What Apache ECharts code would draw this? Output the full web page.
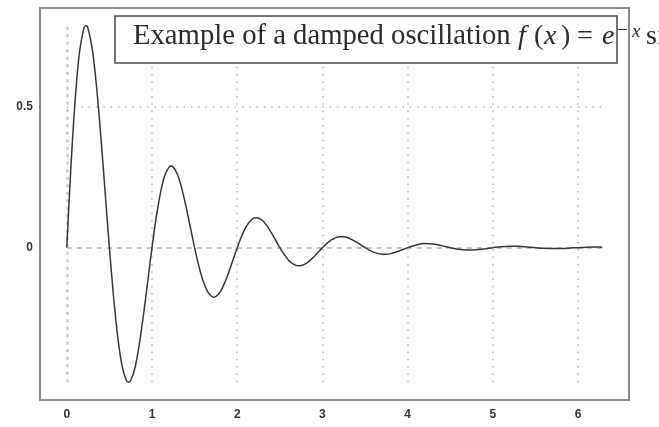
<!DOCTYPE html>
<html>
<head>
<meta charset="utf-8">
<script src="https://cdn.jsdelivr.net/npm/echarts@6/dist/echarts.min.js"></script>
<style>
html,body{margin:0;padding:0;background:#fff;}
#chart{width:659px;height:427px;}
</style>
</head>
<body>
<div id="chart"></div>
<script>
// Sample positions (x) and values f(x)
const xValues = [
  0, 0.05, 0.1, 0.15, 0.2, 0.225, 0.25, 0.3, 0.35, 0.4, 0.45, 0.5,
  0.55, 0.6, 0.65, 0.7, 0.725, 0.75, 0.8, 0.85, 0.9, 0.95, 1.0,
  1.05, 1.1, 1.15, 1.2, 1.225, 1.25, 1.3, 1.35, 1.4, 1.45, 1.5,
  1.55, 1.6, 1.65, 1.7, 1.725, 1.75, 1.8, 1.85, 1.9, 1.95, 2.0,
  2.05, 2.1, 2.15, 2.2, 2.225, 2.25, 2.3, 2.35, 2.4, 2.45, 2.5,
  2.55, 2.6, 2.65, 2.7, 2.725, 2.75, 2.8, 2.85, 2.9, 2.95, 3.0,
  3.1, 3.2, 3.25, 3.3, 3.4, 3.5, 3.6, 3.7, 3.75, 3.8, 3.9, 4.0,
  4.1, 4.2, 4.3, 4.4, 4.5, 4.6, 4.7, 4.8, 4.9, 5.0,
  5.1, 5.2, 5.3, 5.4, 5.5, 5.6, 5.7, 5.8, 5.9, 6.0,
  6.1, 6.2, 6.283
];
const yValues = [
  0, 0.2939, 0.5318, 0.6963, 0.7787, 0.7886, 0.7788, 0.7046, 0.5701, 0.3940, 0.1970, 0,
  -0.1783, -0.3226, -0.4223, -0.4723, -0.4783, -0.4724, -0.4273, -0.3458, -0.2390, -0.1195, 0,
  0.1081, 0.1956, 0.2562, 0.2865, 0.2901, 0.2865, 0.2592, 0.2097, 0.1450, 0.0725, 0,
  -0.0656, -0.1187, -0.1554, -0.1738, -0.1760, -0.1738, -0.1572, -0.1272, -0.0879, -0.0440, 0,
  0.0398, 0.0720, 0.0942, 0.1054, 0.1067, 0.1054, 0.0954, 0.0772, 0.0533, 0.0267, 0,
  -0.0241, -0.0437, -0.0572, -0.0639, -0.0647, -0.0639, -0.0578, -0.0468, -0.0323, -0.0162, 0,
  0.0265, 0.0388, 0.0388, 0.0351, 0.0196, 0, -0.0161, -0.0235, -0.0235, -0.0213, -0.0119, 0,
  0.0097, 0.0143, 0.0129, 0.0072, 0, -0.0059, -0.0087, -0.0078, -0.0044, 0,
  0.0036, 0.0052, 0.0047, 0.0027, 0, -0.0022, -0.0032, -0.0029, -0.0016, 0,
  0.0013, 0.0019, 0.0018
];
const xTickLabels = [0, 1, 2, 3, 4, 5, 6];
const yTickLabels = [0, 0.5];
const xGridLines = [1, 2, 3, 4, 5, 6];
const yGridLines = [0.5];
const titleMain = 'Example of a damped oscillation';
// title formula pieces: f ( x ) = e ^{-x} sin(2πx)
const titleMath = ['f', '(', 'x', ')', '=', 'e', '\u2212', 'x', 'sin(2\u03c0x)'];

const xMinD = Math.min(...xValues), xMaxD = Math.max(...xValues);
const yMinD = Math.min(...yValues), yMaxD = Math.max(...yValues);
const xPad = (xMaxD - xMinD) * 0.05, yPad = (yMaxD - yMinD) * 0.05;

const dotted = {type: [1.5, 5.8], width: 1.5, color: '#b4b4b4'};
const dashedH = {type: [5, 5], width: 2, color: '#c4c4c4'};
const dashedV = {type: [3, 4.5], width: 2.5, color: '#c8c8c8'};

const markData = [];
xGridLines.forEach(v => markData.push([{coord: [v, yMinD], lineStyle: dotted}, {coord: [v, yMaxD]}]));
yGridLines.forEach(v => markData.push([{coord: [xMinD, v], lineStyle: dotted}, {coord: [xMaxD, v]}]));
markData.push([{coord: [0, yMinD], lineStyle: dashedV}, {coord: [0, yMaxD]}]);
markData.push([{coord: [xMinD, 0], lineStyle: dashedH}, {coord: [xMaxD, 0]}]);

const serif = '"Liberation Serif", "DejaVu Serif", serif';
const txtColor = '#2b2b2b';
const base = {fontFamily: serif, fontWeight: 'normal', color: txtColor, verticalAlign: 'bottom', lineHeight: 34, fontSize: 28, align: 'left'};
const sup = {fontFamily: serif, fontWeight: 'normal', color: txtColor, verticalAlign: 'top', lineHeight: 27, fontSize: 19, align: 'left', padding: [5, 0, 0, 0]};
const rich = {
  t: Object.assign({}, base, {fontSize: 28.7, width: 385}),
  f: Object.assign({}, base, {fontStyle: 'italic', width: 16}),
  lp: Object.assign({}, base, {width: 10}),
  x: Object.assign({}, base, {fontStyle: 'italic', width: 17}),
  rp: Object.assign({}, base, {width: 16}),
  eq: Object.assign({}, base, {width: 25}),
  e: Object.assign({}, base, {fontStyle: 'italic', width: 15}),
  sm: Object.assign({}, sup, {width: 15}),
  sx: Object.assign({}, sup, {fontStyle: 'italic', width: 14}),
  n: Object.assign({}, base)
};
const titleText = '{t|' + titleMain + '}' +
  '{f|' + titleMath[0] + '}{lp|' + titleMath[1] + '}{x|' + titleMath[2] + '}{rp|' + titleMath[3] + '}' +
  '{eq|' + titleMath[4] + '}{e|' + titleMath[5] + '}{sm|' + titleMath[6] + '}{sx|' + titleMath[7] + '}' +
  '{n|' + titleMath[8] + '}';

const chart = echarts.init(document.getElementById('chart'), null, {renderer: 'canvas'});
chart.setOption({
  animation: false,
  backgroundColor: '#fff',
  title: {
    text: titleText,
    left: 133,
    top: 17,
    padding: 0,
    z: 8,
    textStyle: {fontWeight: 'normal', rich: rich}
  },
  graphic: [{
    type: 'rect', z: 5,
    shape: {x: 115, y: 16, width: 502, height: 47},
    style: {fill: '#fff', stroke: '#4a4a4a', lineWidth: 1.5}
  }],
  grid: {
    left: 40, right: 30, top: 8, bottom: 27,
    show: true, borderColor: '#8a8a8a', borderWidth: 2, backgroundColor: '#fff'
  },
  xAxis: {
    type: 'value',
    min: xMinD - xPad, max: xMaxD + xPad,
    axisLine: {show: false}, axisTick: {show: false}, splitLine: {show: false},
    axisLabel: {
      customValues: xTickLabels, margin: 9,
      fontFamily: '"Liberation Sans", Arial, sans-serif', fontWeight: 'bold', fontSize: 12, color: '#333'
    }
  },
  yAxis: {
    type: 'value',
    min: yMinD - yPad, max: yMaxD + yPad,
    axisLine: {show: false}, axisTick: {show: false}, splitLine: {show: false},
    axisLabel: {
      customValues: yTickLabels, margin: 7,
      fontFamily: '"Liberation Sans", Arial, sans-serif', fontWeight: 'bold', fontSize: 12, color: '#333'
    }
  },
  series: [{
    type: 'line',
    data: xValues.map((x, i) => [x, yValues[i]]),
    showSymbol: false,
    smooth: 0.3,
    lineStyle: {color: '#363636', width: 1.5},
    z: 3,
    markLine: {
      silent: true, symbol: 'none', label: {show: false}, z: 1,
      data: markData
    }
  }]
});
</script>
</body>
</html>
